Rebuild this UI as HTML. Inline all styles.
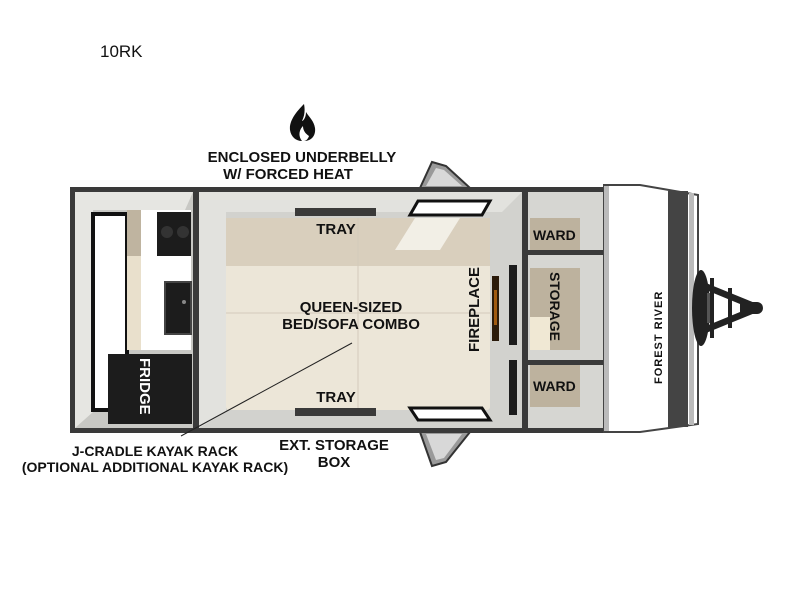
<!DOCTYPE html>
<html><head><style>
body{margin:0;background:#fff}
svg text{font-family:"Liberation Sans",Arial,sans-serif;font-weight:bold;fill:#111}
</style></head><body>
<svg width="800" height="600" viewBox="0 0 800 600" xmlns="http://www.w3.org/2000/svg">
<rect width="800" height="600" fill="#fff"/>
<text x="100" y="57" font-size="17" font-weight="normal" style="font-weight:normal">10RK</text>
<!-- flame -->
<path d="M304 104 C296 112 289 121 290 130 C291 137 296 141 302 141 C298 136 299 130 303 126 C303 131 306 134 309 136 C308 139 306 141 304 141 C311 141 316 136 315 128 C314 121 309 117 306 112 C306 118 303 121 302 121 C305 115 305 109 304 104 Z" fill="#111"/>
<text x="302" y="162" font-size="15" text-anchor="middle">ENCLOSED UNDERBELLY</text>
<text x="288" y="179" font-size="15" text-anchor="middle">W/ FORCED HEAT</text>
<!-- door flaps -->
<polygon points="420,188 432,162 446,166 470,188" fill="#9a9a9a" stroke="#333" stroke-width="2"/>
<polygon points="426,186 436,168 444,170 462,186" fill="#d8d8d8"/>
<polygon points="420,432 432,466 446,462 470,432" fill="#9a9a9a" stroke="#333" stroke-width="2"/>
<polygon points="426,434 436,460 444,458 462,434" fill="#d8d8d8"/>
<!-- body -->
<rect x="70" y="187" width="536" height="246" fill="#3a3a3a"/>
<rect x="75" y="192" width="118" height="236" fill="#c8c8c4"/>
<polygon points="75,192 193,192 185,210 93,210 93,412 75,428" fill="#e6e6e2"/>
<rect x="199" y="192" width="323" height="236" fill="#d2d2ce"/>
<polygon points="199,192 522,192 502,212 226,212 226,412 199,428" fill="#e2e2de"/>
<rect x="528" y="192" width="76" height="236" fill="#d6d6d2"/>
<rect x="528" y="250" width="76" height="5" fill="#3a3a3a"/>
<rect x="528" y="360" width="76" height="5" fill="#3a3a3a"/>
<!-- left room -->
<rect x="93" y="214" width="34" height="196" fill="#fff" stroke="#111" stroke-width="4"/>
<rect x="127" y="210" width="64" height="140" fill="#fff"/>
<rect x="127" y="210" width="14" height="140" fill="#e9e0cc"/>
<rect x="127" y="210" width="14" height="46" fill="#bfb4a0"/>
<rect x="157" y="212" width="34" height="44" fill="#1c1c1c"/>
<circle cx="167" cy="232" r="6" fill="#333"/><circle cx="183" cy="232" r="6" fill="#333"/>
<rect x="165" y="282" width="26" height="52" fill="#1c1c1c" stroke="#444" stroke-width="2"/>
<circle cx="184" cy="302" r="2" fill="#888"/>
<rect x="108" y="354" width="84" height="70" fill="#1c1c1c"/>
<text transform="translate(140,358) rotate(90)" font-size="15" style="fill:#fff">FRIDGE</text>
<!-- bed -->
<rect x="226" y="218" width="264" height="192" fill="#ece6d8" rx="3"/>
<rect x="226" y="218" width="264" height="48" fill="#d9cfbd"/>
<polygon points="415,218 460,218 440,250 395,250" fill="#f2efe6"/>
<line x1="226" y1="313" x2="490" y2="313" stroke="#d4cbbb"/>
<line x1="358" y1="218" x2="358" y2="410" stroke="#d4cbbb"/>
<rect x="295" y="208" width="81" height="8" fill="#3a3a3a"/>
<rect x="295" y="408" width="81" height="8" fill="#3a3a3a"/>
<polygon points="410,215 418,201 490,201 482,215" fill="#fff" stroke="#111" stroke-width="3"/>
<polygon points="410,408 418,420 490,420 482,408" fill="#fff" stroke="#111" stroke-width="3"/>
<rect x="492" y="276" width="7" height="65" fill="#2a1a0a"/>
<rect x="494" y="290" width="3" height="35" fill="#a05a10"/>
<rect x="509" y="265" width="8" height="80" fill="#1c1c1c"/>
<rect x="509" y="360" width="8" height="55" fill="#1c1c1c"/>
<text x="336" y="234" font-size="15" text-anchor="middle">TRAY</text>
<text x="336" y="402" font-size="15" text-anchor="middle">TRAY</text>
<text x="351" y="312" font-size="15" text-anchor="middle">QUEEN-SIZED</text>
<text x="351" y="329" font-size="15" text-anchor="middle">BED/SOFA COMBO</text>
<text transform="translate(479,352) rotate(-90)" font-size="15">FIREPLACE</text>
<line x1="352" y1="343" x2="181" y2="436" stroke="#222" stroke-width="1"/>
<!-- right compartments -->
<rect x="530" y="218" width="50" height="32" fill="#bdb29e"/>
<rect x="530" y="268" width="50" height="82" fill="#bdb29e"/>
<rect x="530" y="317" width="20" height="33" fill="#f0e8d4"/>
<rect x="530" y="365" width="50" height="42" fill="#bdb29e"/>
<text x="533" y="240" font-size="14">WARD</text>
<text x="533" y="391" font-size="14">WARD</text>
<text transform="translate(550,272) rotate(90)" font-size="14">STORAGE</text>
<!-- front cap -->
<path d="M604 185 L640 185 L698 195 L698 424 L640 432 L604 432 Z" fill="#fff" stroke="#444" stroke-width="2"/>
<rect x="668" y="191" width="20" height="236" fill="#444"/>
<rect x="689" y="193" width="5" height="232" fill="#bbb"/>
<rect x="604" y="186" width="5" height="245" fill="#bbb"/>
<text transform="translate(662,384) rotate(-90)" font-size="11" letter-spacing="1">FOREST RIVER</text>
<!-- hitch -->
<ellipse cx="701" cy="308" rx="9" ry="38" fill="#222"/>
<rect x="707" y="293" width="4" height="30" fill="#555"/>
<polygon points="706,283 755,303 755,313 706,333 706,326 740,312 740,304 706,290" fill="#222"/>
<rect x="710" y="278" width="4" height="60" fill="#222"/>
<rect x="728" y="288" width="4" height="40" fill="#222"/>
<rect x="745" y="302" width="18" height="12" rx="6" fill="#222"/>
<!-- bottom labels -->
<text x="155" y="456" font-size="14" text-anchor="middle">J-CRADLE KAYAK RACK</text>
<text x="155" y="472" font-size="14" text-anchor="middle">(OPTIONAL ADDITIONAL KAYAK RACK)</text>
<text x="334" y="450" font-size="15" text-anchor="middle">EXT. STORAGE</text>
<text x="334" y="467" font-size="15" text-anchor="middle">BOX</text>
</svg>
</body></html>
